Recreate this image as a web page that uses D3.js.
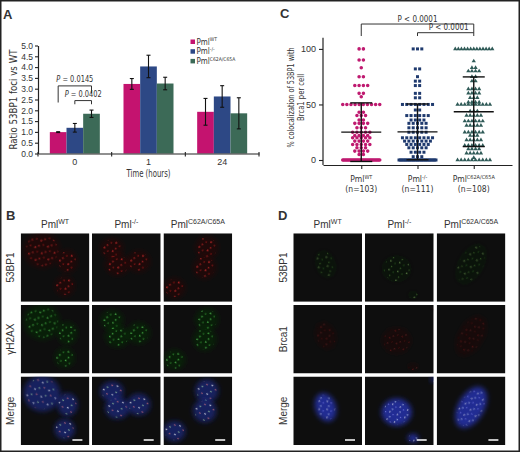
<!DOCTYPE html>
<html>
<head>
<meta charset="utf-8">
<script src="https://cdn.jsdelivr.net/npm/d3@7"></script>
<style>
  body { margin: 0; background: #fff; }
  svg { display: block; }
  text { font-family: "Liberation Sans", Arial, sans-serif; fill: #333; }
  .cond { font-family: "DejaVu Sans Condensed", "Liberation Sans", sans-serif; }
</style>
</head>
<body>
<svg id="fig" width="520" height="452"></svg>
<script>
// ---- panel A data (ratio of 53BP1 foci vs WT) ----
const timeLabels = ['0', '1', '24'];
const genotypes = ['WT', 'KO', 'C62A'];
const genoSup = ['WT', '-/-', 'C62A/C65A'];
const wtRatio = [0.99, 3.22, 1.93];
const koRatio = [1.19, 4.03, 2.64];
const mutRatio = [1.84, 3.24, 1.86];
const wtErr = [0.02, 0.25, 0.62];
const koErr = [0.20, 0.52, 0.50];
const mutErr = [0.17, 0.29, 0.72];
const ratioTicks = [0, 0.5, 1, 1.5, 2, 2.5, 3, 3.5, 4, 4.5, 5];
const barColors = ['#c4136f', '#2d4885', '#3c6a57'];

// ---- panel C data (% colocalization, [value, number of cells]) ----
const wtColoc = [[100,2],[90,2],[83,1],[75,2],[67,4],[60,2],[57,1],[50,10],[43,2],[40,3],[36,2],[33,4],
  [29,3],[25,5],[22,4],[20,5],[17,4],[14,5],[11,3],[8,4],[5,2],[0,33]];
const koColoc = [[100,3],[82,2],[75,1],[71,2],[67,2],[60,2],[56,2],[50,8],[45,2],[40,6],[36,4],[33,5],
  [29,5],[25,5],[20,8],[17,7],[14,6],[11,5],[7,4],[3,3],[0,29]];
const mutColoc = [[100,13],[89,1],[83,2],[80,4],[75,2],[71,2],[64,4],[60,4],[56,3],[52,4],[50,10],[44,3],
  [40,5],[35,6],[31,5],[25,6],[22,3],[18,5],[13,6],[10,4],[6,5],[2,1],[0,10]];
const colocN = ['103', '111', '108'];
const colocTicks = [0, 50, 100];
const dotColors = ['#bf1a70', '#1f3a6e', '#2f5a57'];

// ---- panels B / D: nuclei seen in each column [cx, cy, rx, ry, angle] (tile fractions) ----
const bNuclei = [
  [[0.31, 0.25, 0.27, 0.26, 20], [0.68, 0.41, 0.15, 0.17, 0], [0.64, 0.77, 0.15, 0.15, 0]],
  [[0.29, 0.22, 0.17, 0.15, 0], [0.37, 0.46, 0.18, 0.16, 0], [0.68, 0.41, 0.17, 0.16, 0]],
  [[0.63, 0.21, 0.17, 0.17, 0], [0.60, 0.50, 0.17, 0.17, 0], [0.16, 0.80, 0.16, 0.15, 0]]
];
const dNuclei = [
  [[0.47, 0.45, 0.15, 0.21, -20]],
  [[0.46, 0.52, 0.22, 0.20, 0], [0.70, 0.90, 0.08, 0.06, 0], [0.99, 0.04, 0.03, 0.04, 0]],
  [[0.50, 0.45, 0.19, 0.33, 30]]
];
const bRows = ['53BP1', '\u03B3H2AX', 'Merge'];
const dRows = ['53BP1', 'Brca1', 'Merge'];

const svg = d3.select('#fig');
const defs = svg.append('defs');
svg.append('rect').attr('width', 520).attr('height', 452).attr('fill', '#fff');

function pml(sel, sup, size, supSize){
  sel.append('tspan').text('Pml').attr('font-size', size);
  sel.append('tspan').text(sup).attr('font-size', supSize).attr('dy', -size*0.38);
}
function styleAxis(g, fs){
  g.select('.domain').attr('stroke', '#222').attr('stroke-width', 1.2);
  g.selectAll('.tick line').attr('stroke', '#222').attr('stroke-width', 1.1);
  g.selectAll('.tick text').attr('fill', '#333').attr('font-size', fs);
}

// ================= A =================
const gA = svg.append('g');
gA.append('text').attr('x', 3).attr('y', 19).attr('font-weight', 'bold').attr('font-size', 13).attr('fill', '#111').text('A');

const yA = d3.scaleLinear().domain([0, 5]).range([153.5, 45.5]);
const xA = d3.scaleBand().domain(timeLabels).range([38, 259]);
const xSub = d3.scaleBand().domain(genotypes).range([(xA.bandwidth()-50)/2, (xA.bandwidth()+50)/2]);
const ratioVals = [wtRatio, koRatio, mutRatio];
const ratioErrs = [wtErr, koErr, mutErr];
const bars = timeLabels.flatMap((t, i) => genotypes.map((g, j) => ({t, g, j, v: ratioVals[j][i], e: ratioErrs[j][i]})));

gA.selectAll('rect.bar').data(bars).enter().append('rect').attr('class', 'bar')
  .attr('x', d => xA(d.t) + xSub(d.g)).attr('width', xSub.bandwidth())
  .attr('y', d => yA(d.v)).attr('height', d => yA(0) - yA(d.v))
  .attr('fill', d => barColors[d.j]);

const eb = gA.selectAll('g.err').data(bars).enter().append('g').attr('class', 'err')
  .attr('transform', d => `translate(${xA(d.t) + xSub(d.g) + xSub.bandwidth()/2},0)`)
  .attr('stroke', '#111').attr('stroke-width', 1.1);
eb.append('line').attr('y1', d => yA(d.v - d.e)).attr('y2', d => yA(d.v + d.e));
eb.append('line').attr('x1', -2).attr('x2', 2).attr('y1', d => yA(d.v + d.e)).attr('y2', d => yA(d.v + d.e));
eb.append('line').attr('x1', -2).attr('x2', 2).attr('y1', d => yA(d.v - d.e)).attr('y2', d => yA(d.v - d.e));

const axA = gA.append('g').attr('transform', 'translate(38,0)').attr('class', 'cond')
  .call(d3.axisLeft(yA).tickValues(ratioTicks).tickFormat(d3.format('.1f')).tickSize(3).tickSizeOuter(0).tickPadding(2));
styleAxis(axA, 8.5);
const axAx = gA.append('g').attr('transform', `translate(0,${yA(0)})`).attr('class', 'cond')
  .call(d3.axisBottom(xA).tickSize(0).tickPadding(5).tickSizeOuter(0));
styleAxis(axAx, 9);
gA.selectAll('line.btick').data([...timeLabels.map(t => xA(t)), xA.range()[1]]).enter().append('line')
  .attr('x1', d => d).attr('x2', d => d).attr('y1', yA(0) - 1.5).attr('y2', yA(0) + 3)
  .attr('stroke', '#222').attr('stroke-width', 1.1);

gA.append('text').attr('class', 'cond').attr('font-size', 10).attr('text-anchor', 'middle')
  .attr('textLength', 100).attr('lengthAdjust', 'spacingAndGlyphs')
  .attr('transform', `translate(17,${(yA(0)+yA(5))/2}) rotate(-90)`).text('Ratio 53BP1 foci vs WT');
gA.append('text').attr('class', 'cond').attr('font-size', 10).attr('text-anchor', 'middle')
  .attr('textLength', 44).attr('lengthAdjust', 'spacingAndGlyphs')
  .attr('x', xA('1') + xA.bandwidth()/2).attr('y', 177).text('Time (hours)');

// significance brackets
const cx = (t, g) => xA(t) + xSub(g) + xSub.bandwidth()/2;
const sigA = [
  {label: '0.0145', a: 'WT', b: 'C62A', top: 3.13, legA: 2.36, legB: 2.78, textAt: 3.32},
  {label: '0.0402', a: 'KO', b: 'C62A', top: 2.45, legA: 2.28, legB: 2.28, textAt: 2.63}
];
sigA.forEach(s => {
  const x1 = cx('0', s.a), x2 = cx('0', s.b);
  gA.append('path').attr('fill', 'none').attr('stroke', '#333').attr('stroke-width', 1)
    .attr('d', `M${x1},${yA(s.legA)}V${yA(s.top)}H${x2}V${yA(s.legB)}`);
  const t = gA.append('text').attr('class', 'cond').attr('font-size', 8.5).attr('text-anchor', 'middle')
    .attr('x', (x1 + x2)/2).attr('y', yA(s.textAt))
    .attr('textLength', 37).attr('lengthAdjust', 'spacingAndGlyphs');
  t.append('tspan').attr('font-style', 'italic').text('P');
  t.append('tspan').text(' = ' + s.label);
});

// legend
genotypes.forEach((g, j) => {
  const ly = 39.5 + j*9.7;
  gA.append('rect').attr('x', 190.5).attr('y', ly).attr('width', 4.5).attr('height', 4.5).attr('fill', barColors[j]);
  gA.append('text').attr('class', 'cond').attr('x', 196.5).attr('y', ly + 5).call(pml, genoSup[j], 8, 5);
});

// ================= C =================
const gC = svg.append('g');
gC.append('text').attr('x', 280).attr('y', 18).attr('font-weight', 'bold').attr('font-size', 13).attr('fill', '#111').text('C');
const yC = d3.scaleLinear().domain([-4.5, 110]).range([165, 37.8]);
const xC = d3.scalePoint().domain(genotypes).range([323, 512]).padding(0.68);

const colocSets = [wtColoc, koColoc, mutColoc];
const shapes = [d3.symbolCircle, d3.symbolSquare, d3.symbolTriangle];
const shapeSize = [10, 9, 8];
const spacing = [4.3, 4.3, 3.6];
colocSets.forEach((rows, j) => {
  const pts = [];
  rows.forEach(([v, n]) => {
    const s = n > 1 ? Math.min(spacing[j], 37/(n-1)) : 0;
    for (let i = 0; i < n; i++) pts.push({v, dx: (i - (n-1)/2)*s});
  });
  gC.selectAll(null).data(pts).enter().append('path')
    .attr('d', d3.symbol().type(shapes[j]).size(shapeSize[j]))
    .attr('transform', d => `translate(${xC(genotypes[j]) + d.dx},${yC(d.v)})`)
    .attr('fill', dotColors[j]);
  const vals = pts.map(p => p.v);
  const m = d3.mean(vals), sd = d3.deviation(vals), x0 = xC(genotypes[j]);
  const ms = gC.append('g').attr('stroke', '#111').attr('stroke-width', 1.4);
  ms.append('line').attr('x1', x0 - 20).attr('x2', x0 + 20).attr('y1', yC(m)).attr('y2', yC(m));
  ms.append('line').attr('x1', x0).attr('x2', x0).attr('y1', yC(m - sd)).attr('y2', yC(m + sd));
  [m - sd, m + sd].forEach(v => ms.append('line').attr('x1', x0 - 11).attr('x2', x0 + 11).attr('y1', yC(v)).attr('y2', yC(v)));
});

const axC = gC.append('g').attr('transform', 'translate(323,0)').attr('class', 'cond')
  .call(d3.axisLeft(yC).tickValues(colocTicks).tickSize(4).tickSizeOuter(0).tickPadding(3));
styleAxis(axC, 9);
axC.select('.domain').attr('d', `M0,${yC(110)}V${yC(-4.5)}`);
const axCx = gC.append('g').attr('transform', `translate(0,${yC(-4.5)})`)
  .call(d3.axisBottom(xC).tickSize(4).tickSizeOuter(0).tickFormat(''));
styleAxis(axCx, 9);
genotypes.forEach((g, j) => {
  gC.append('text').attr('class', 'cond').attr('text-anchor', 'middle').attr('x', xC(g)).attr('y', 182).call(pml, genoSup[j], 8.5, 5.5);
  gC.append('text').attr('class', 'cond').attr('text-anchor', 'middle').attr('font-size', 8.5)
    .attr('x', xC(g)).attr('y', 192).text(`(n=${colocN[j]})`);
});
const ylab = gC.append('text').attr('class', 'cond').attr('font-size', 8.5).attr('text-anchor', 'middle')
  .attr('transform', `translate(294,${(yC(-4.5)+yC(110))/2 - 4}) rotate(-90)`);
ylab.append('tspan').attr('x', 0).text('% colocalization of 53BP1 with')
  .attr('textLength', 100).attr('lengthAdjust', 'spacingAndGlyphs');
ylab.append('tspan').attr('x', 0).attr('dy', 10).text('Brca1 per cell')
  .attr('textLength', 47).attr('lengthAdjust', 'spacingAndGlyphs');

const sigC = [
  {a: 'WT', b: 'C62A', top: 122.4, legA: 111.6, legB: 111.6, shift: 0},
  {a: 'KO', b: 'C62A', top: 114.6, legA: 111.6, legB: 114.6, shift: 3}
];
sigC.forEach(s => {
  const x1 = xC(s.a), x2 = xC(s.b);
  gC.append('path').attr('fill', 'none').attr('stroke', '#333').attr('stroke-width', 1)
    .attr('d', `M${x1},${yC(s.legA)}V${yC(s.top)}H${x2}V${yC(s.legB)}`);
  gC.append('text').attr('class', 'cond').attr('font-size', 8.5).attr('text-anchor', 'middle')
    .attr('x', (x1 + x2)/2 + s.shift).attr('y', yC(s.top) - 2.5)
    .attr('textLength', 40).attr('lengthAdjust', 'spacingAndGlyphs').text('P < 0.0001');
});

// ================= B / D (micrographs) =================
function dotPattern(id, colors, r, size, rot){
  const p = defs.append('pattern').attr('id', id).attr('patternUnits', 'userSpaceOnUse')
    .attr('width', size).attr('height', size).attr('patternTransform', `rotate(${rot})`);
  const spots = [[0.2, 0.25], [0.7, 0.45], [0.4, 0.85]];
  spots.forEach(([fx, fy], i) => p.append('circle').attr('cx', fx*size).attr('cy', fy*size)
    .attr('r', r).attr('fill', colors[i % colors.length]));
}
dotPattern('fRed', ['#e83030', '#9a1818', '#c02828'], 0.9, 9, 23);
dotPattern('fGreen', ['#60e060', '#2f8a2f', '#48b848'], 0.85, 9, 17);
dotPattern('fMerge', ['#ffffff', '#d07080', '#a0d0a0'], 0.8, 10, 31);
dotPattern('fGreenD', ['#b0f080', '#3a7a2a', '#60a040'], 0.7, 9, 12);
dotPattern('fRedD', ['#7a1a1a', '#501010', '#602020'], 0.8, 9, 40);
dotPattern('fMergeD', ['#ffffff', '#9090ff', '#d0e0ff'], 0.7, 8, 21);
const blur = defs.append('filter').attr('id', 'glow').attr('x', '-50%').attr('y', '-50%').attr('width', '200%').attr('height', '200%');
blur.append('feGaussianBlur').attr('stdDeviation', 2.5);
const soft = defs.append('filter').attr('id', 'soft');
soft.append('feGaussianBlur').attr('stdDeviation', 0.3);

const channels = {
  red: {base: 'rgba(60,10,10,0.35)', dots: 'fRed', op: 0.7},
  green: {base: 'rgba(15,55,15,0.4)', dots: 'fGreen', op: 0.75},
  merge: {base: 'rgba(30,38,130,0.7)', dots: 'fMerge', op: 0.85},
  greenD: {base: 'rgba(15,35,15,0.25)', dots: 'fGreenD', op: 0.6},
  redD: {base: 'rgba(45,10,10,0.25)', dots: 'fRedD', op: 0.7},
  mergeD: {base: 'rgba(38,52,180,0.8)', dots: 'fMergeD', op: 0.75}
};

function micPanel(opt){
  const g = svg.append('g');
  g.append('text').attr('x', opt.lx).attr('y', 220).attr('font-weight', 'bold').attr('font-size', 13).attr('fill', '#111').text(opt.letter);
  const tw = 68.7, th = 68.5;
  opt.xs.forEach((x0, c) => {
    g.append('text').attr('text-anchor', 'middle').attr('x', x0 + tw/2).attr('y', 228).call(pml, genoSup[c], 10, 7);
    opt.ys.forEach((y0, r) => {
      const id = `clip${opt.letter}${c}${r}`;
      defs.append('clipPath').attr('id', id).append('rect').attr('x', x0).attr('y', y0).attr('width', tw).attr('height', th);
      const tile = g.append('g').attr('clip-path', `url(#${id})`);
      tile.append('rect').attr('x', x0).attr('y', y0).attr('width', tw).attr('height', th).attr('fill', '#0e0e0e');
      const ch = channels[opt.chan[r]];
      opt.nuclei[c].forEach(([fx, fy, rx, ry, a]) => {
        const cxn = x0 + fx*tw, cyn = y0 + fy*th;
        const e = tile.append('g').attr('transform', `translate(${cxn},${cyn}) rotate(${a})`);
        e.append('ellipse').attr('rx', rx*tw).attr('ry', ry*th).attr('fill', ch.base).attr('filter', 'url(#glow)');
        e.append('ellipse').attr('rx', rx*tw*0.88).attr('ry', ry*th*0.88).attr('fill', `url(#${ch.dots})`)
          .attr('opacity', ch.op).attr('filter', 'url(#soft)');
      });
      if (r === 2) tile.append('line').attr('x1', x0 + tw - 17).attr('x2', x0 + tw - 7)
        .attr('y1', y0 + th - 5).attr('y2', y0 + th - 5).attr('stroke', '#fff').attr('stroke-width', 1.4);
    });
  });
  opt.rows.forEach((lab, r) => {
    g.append('text').attr('font-size', 10).attr('text-anchor', 'middle')
      .attr('transform', `translate(${opt.rx},${opt.ys[r] + th/2}) rotate(-90)`).text(lab);
  });
}
micPanel({letter: 'B', lx: 6, rx: 14, xs: [20.7, 92, 163.5], ys: [233.3, 305, 376.5],
  rows: bRows, chan: ['red', 'green', 'merge'], nuclei: bNuclei});
micPanel({letter: 'D', lx: 278, rx: 287, xs: [293.3, 365, 436.7], ys: [233.3, 305, 376.5],
  rows: dRows, chan: ['greenD', 'redD', 'mergeD'], nuclei: dNuclei});

// frame round the figure
svg.append('rect').attr('x', 0.75).attr('y', 0.75).attr('width', 518.5).attr('height', 450.5)
  .attr('fill', 'none').attr('stroke', '#222').attr('stroke-width', 1.5);
</script>
</body>
</html>
